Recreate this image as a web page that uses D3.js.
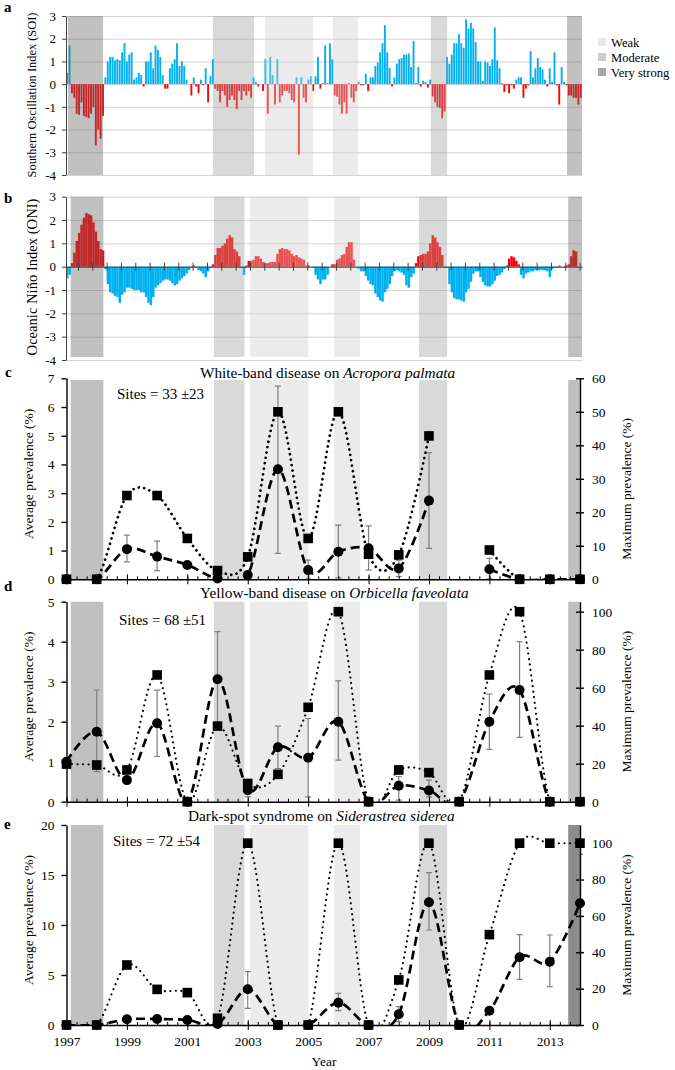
<!DOCTYPE html>
<html>
<head>
<meta charset="utf-8">
<script src="https://cdn.jsdelivr.net/npm/d3@7"></script>
<style>
  body { margin: 0; background: #fff; }
  text { font-family: "Liberation Serif", "Times New Roman", serif; }
</style>
</head>
<body>
<svg id="fig" width="675" height="1070" font-family="Liberation Serif, serif"></svg>
<script>
// ---- data ----
// monthly Southern Oscillation Index, Jan 1997 onwards
const soi = [
  0.5, 1.7, -0.4, -0.6, -1.3, -1.35, -0.8, -1.4, -1.45, -1.5, -1.3, -1.0,
  -2.7, -2.0, -2.4, -1.4, 0.3, 1.0, 1.2, 1.2, 1.05, 1.1, 1.05, 1.4,
  1.8, 1.0, 1.3, 1.4, 0.2, 0.3, 0.5, 0.4, -0.1, 1.0, 1.0, 1.4,
  0.7, 1.7, 1.5, 1.2, 0.4, -0.2, -0.2, 0.7, 0.9, 1.1, 1.8, 0.8,
  1.0, 0.8, 0.2, 0.0, -0.5, 0.3, -0.1, -0.4, 0.2, -0.05, 0.7, -0.8,
  0.35, 1.1, -0.2, -0.3, -0.8, -0.3, -0.5, -1.0, -0.7, -0.5, -0.7, -1.1,
  -0.3, -0.7, -0.3, -0.5, -0.3, -0.6, 0.3, 0.1, -0.1, 0.0, -0.3, 1.1,
  -1.3, 1.2, 0.4, -0.9, 1.1, -0.8, -0.5, -0.3, -0.3, -0.4, -0.7, -0.8,
  0.3, -3.1, 0.3, -0.6, -0.8, 0.2, 0.35, -0.3, 0.35, 1.2, -0.2, 0.05,
  1.7, 0.05, 1.8, 1.1, -0.5, -0.55, -0.9, -1.3, -0.8, -1.3, 0.05, -0.6,
  -0.8, -0.3, 0.1, -0.05, -0.05, 0.45, -0.3, 0.3, 0.3, 0.8, 0.95, 1.4,
  1.8, 2.6, 1.4, 0.7, -0.1, 0.3, 0.9, 1.1, 1.15, 1.3, 1.3, 1.35,
  0.75, 1.9, 0.05, 0.75, -0.1, 0.15, 0.1, -0.15, 0.2, -0.55, -0.8, -1.0,
  -1.05, -1.5, -1.2, 1.2, 0.9, 1.3, 1.8, 1.8, 2.2, 1.8, 1.6, 2.85,
  2.45, 2.7, 2.45, 1.85, 1.0, 1.0, 0.15, 1.0, 0.95, 0.8, 1.1, 2.5,
  1.05, 0.7, 0.05, -0.35, -0.05, -0.4, -0.05, -0.2, 0.2, 0.3, 0.3, -0.6,
  -0.2, -0.05, 1.45, 0.3, 0.7, 1.15, 0.75, 0.65, 0.2, -0.1, 0.7, 0.1,
  1.4, -0.05, -0.9, 0.75, 0.1, -0.05, -0.5, -0.5, -0.6, -0.6, -0.9, -0.6
];

// monthly Oceanic Nino Index, Jan 1997 onwards
const oni = [
  -0.5, -0.35, 0.15, 0.6, 1.1, 1.45, 1.8, 2.1, 2.3, 2.25, 2.2, 1.9,
  1.5, 1.1, 0.75, 0.7, -0.1, -0.75, -1.1, -1.15, -1.25, -1.3, -1.55, -1.2,
  -1.1, -0.9, -0.9, -0.95, -1.0, -1.0, -1.0, -1.1, -1.1, -1.3, -1.55, -1.65,
  -1.3, -0.9, -0.8, -0.7, -0.6, -0.55, -0.55, -0.6, -0.7, -0.8, -0.75, -0.6,
  -0.5, -0.4, -0.3, -0.15, -0.05, 0.05, -0.05, -0.15, -0.2, -0.3, -0.45, -0.2,
  -0.05, 0.1, 0.5, 0.8, 0.8, 0.9, 1.0, 1.2, 1.35, 1.25, 0.75, 0.65,
  0.45, -0.05, -0.35, 0.05, 0.25, 0.25, 0.3, 0.45, 0.45, 0.35, 0.2, 0.15,
  0.15, 0.2, 0.2, 0.2, 0.55, 0.75, 0.8, 0.75, 0.75, 0.7, 0.55, 0.45,
  0.5, 0.4, 0.35, 0.3, 0.05, 0.05, 0.0, -0.05, -0.35, -0.55, -0.75, -0.55,
  -0.55, -0.35, 0.0, 0.1, 0.1, 0.3, 0.35, 0.5, 0.55, 0.85, 1.05, 1.05,
  0.3, 0.0, -0.1, -0.2, -0.2, -0.4, -0.6, -0.75, -0.8, -1.15, -1.3, -1.45,
  -1.5, -1.1, -0.95, -0.75, -0.4, -0.2, -0.15, -0.2, -0.25, -0.35, -0.8, -0.9,
  -0.45, -0.3, 0.15, 0.45, 0.5, 0.55, 0.55, 0.65, 1.0, 1.35, 1.25, 1.05,
  0.85, 0.5, -0.05, -0.05, -0.75, -1.1, -1.35, -1.4, -1.4, -1.45, -1.5, -1.1,
  -0.95, -0.65, -0.3, -0.2, -0.2, -0.45, -0.65, -0.8, -0.85, -0.85, -0.75, -0.6,
  -0.4, -0.35, -0.25, -0.1, 0.05, 0.35, 0.45, 0.4, 0.25, 0.1, -0.35, -0.5,
  -0.3, -0.25, -0.2, -0.2, -0.15, -0.15, -0.15, -0.15, -0.15, -0.2, -0.45, -0.1,
  -0.05, -0.05, 0.05, 0.0, -0.05, 0.05, 0.1, 0.45, 0.7, 0.65
];

// ENSO periods [start, end, strength]
const bandsA = [[1997.05, 1998.21, 'vs'], [2001.85, 2003.21, 'm'], [2003.57, 2005.16, 'w'],
                [2005.82, 2006.65, 'w'], [2009.06, 2009.6, 'm'], [2013.57, 2014.07, 'vs']];
const bands = [[1997.14, 1998.22, 'vs'], [2001.88, 2002.89, 'm'], [2003.08, 2005.01, 'w'],
               [2005.86, 2006.72, 'w'], [2008.67, 2009.6, 'm'], [2013.61, 2014.07, 'vs']];
const bandsE = [[1997.14, 1998.22, 'vs'], [2001.88, 2002.89, 'm'], [2003.08, 2005.01, 'w'],
                [2005.86, 2006.72, 'w'], [2008.67, 2009.6, 'm'], [2013.61, 2014.07, 'vsd']];
const legendItems = ['Weak', 'Moderate', 'Very strong'];

const years = d3.range(1997, 2015);
const xTickYears = [1997, 1999, 2001, 2003, 2005, 2007, 2009, 2011, 2013];

// white-band disease
const wbdAvg = [0, 0, 1.05, 0.79, 0.5, 0.03, 0.15, 3.83, 0.32, 0.96, 1.08, 0.38, 2.74, null, 0.35, 0, 0, 0];
const wbdMax = [0, 0, 25, 25, 12.2, 2.6, 6.7, 50, 12.2, 50, 7.5, 7.3, 42.8, null, 8.75, 0, 0, 0];
const wbdLo = [null, null, 0.61, 0.3, 0.42, null, null, 0.9, 0.02, 0.05, 0.32, 0.09, 1.08, null, 0.02, null, null, null];
const wbdHi = [null, null, 1.54, 1.33, 0.62, null, null, 6.73, 0.67, 1.89, 1.86, 0.67, 4.41, null, 0.73, null, null, null];

// yellow-band disease
const ybdAvg = [1.0, 1.75, 0.54, 1.96, 0, 3.06, 0.29, 1.36, 1.1, 2.0, 0, 0.4, 0.28, 0, 2.0, 2.79, 0, 0];
const ybdMax = [19.8, 19.3, 16.7, 66.7, 0, 39.8, 9.6, 14.4, 49.7, 100, 0, 16.7, 15.3, 0, 66.7, 100, 0, 0];
const ybdLo = [null, 0.75, 0.45, 1.13, null, 1.9, 0.12, 0.83, 0.12, 1.04, null, 0.04, 0.12, null, 1.31, 1.61, null, null];
const ybdHi = [null, 2.79, 0.62, 2.79, null, 4.25, 0.45, 1.89, 2.08, 3.02, null, 0.63, 0.54, null, 2.69, 4.0, null, null];

// dark-spot syndrome
const dssAvg = [0, 0, 0.57, 0.6, 0.5, 0.1, 3.57, 0, 0, 2.23, 0, 1.07, 12.27, 0, 1.43, 6.77, 6.33, 12.17];
const dssMax = [0, 0, 33, 19.6, 17.8, 3.7, 100, 0, 0, 100, 0, 24.8, 100, 0, 49.7, 100, 100, 100];
const dssLo = [null, null, null, null, null, null, 1.67, null, null, 1.43, null, 0.33, 9.5, null, null, 4.57, 3.83, 7.27];
const dssHi = [null, null, null, null, null, null, 5.33, null, null, 3.17, null, 1.83, 15.23, null, null, 9.03, 9.0, 17.07];

// ---- drawing ----
const serif = '"Liberation Serif", "Times New Roman", serif';
const svg = d3.select('#fig');

const yearX = d3.scaleLinear().domain([1997, 2014]).range([66.5, 580]);
const monthX = d3.scaleLinear().domain([0, 216]).range([66, 582]);
const monthW = monthX(1) - monthX(0);

const overFill = { vs: '#646464', m: '#a0a0a0', w: '#cdcdcd' };
const underFill = { vs: '#c0c0c0', m: '#d9d9d9', w: '#ebebeb', vsd: '#8c8c8c' };

function styleAxis(g, size) {
  g.attr('font-family', serif).attr('font-size', size);
  g.selectAll('text').attr('fill', '#000');
}

function panelLetter(l, x, y) {
  svg.append('text').attr('x', x).attr('y', y)
    .attr('font-size', 15).attr('font-weight', 'bold').text(l);
}

function rotTitle(txt, cx, cy, size) {
  svg.append('text')
    .attr('transform', `translate(${cx},${cy}) rotate(-90)`)
    .attr('text-anchor', 'middle').attr('dy', '0.35em')
    .attr('font-size', size).text(txt);
}

// index panels (a, b); posColor is the colour of positive values
function indexPanel(vals, y, bandList, bandTop, bandBottom, kind, posColor, negColor) {
  const g = svg.append('g');
  g.append('g').attr('transform', 'translate(66,0)')
    .call(d3.axisLeft(y).tickValues(d3.range(-4, 4)).tickSize(-516).tickFormat(''))
    .call(a => a.select('.domain').remove())
    .selectAll('line').attr('stroke', '#d3d3d3');

  g.selectAll('rect.bar').data(vals).join('rect').attr('class', 'bar')
    .attr('x', (d, i) => monthX(i) + (kind === 'soi' ? 0.2 : 0))
    .attr('width', kind === 'soi' ? monthW - 0.5 : monthW + 0.1)
    .attr('y', d => y(Math.max(0, d)))
    .attr('height', d => Math.abs(y(d) - y(0)))
    .attr('fill', d => d >= 0 ? posColor : negColor);

  g.selectAll('rect.band').data(bandList).join('rect').attr('class', 'band')
    .attr('x', d => yearX(d[0]))
    .attr('width', d => Math.min(yearX(d[1]), 582) - yearX(d[0]))
    .attr('y', bandTop).attr('height', bandBottom - bandTop)
    .attr('fill', d => overFill[d[2]]).attr('fill-opacity', 0.4);

  if (kind === 'oni') {
    g.append('g').attr('transform', `translate(0,${y(0)})`)
      .call(d3.axisBottom(monthX).tickValues(d3.range(5, 216, 6)).tickSize(4).tickSizeOuter(0).tickFormat(''))
      .call(a => a.selectAll('.tick line').attr('y1', -4).attr('stroke', '#404040'))
      .call(a => a.select('.domain').attr('stroke', '#404040'));
  }

  g.append('g').attr('transform', 'translate(66,0)')
    .call(d3.axisLeft(y).tickValues(d3.range(-4, 4)).tickSize(4).tickPadding(6).tickSizeOuter(0).tickFormat(d => String(d)))
    .call(a => styleAxis(a, 13))
    .call(a => a.selectAll('line, .domain').attr('stroke', '#404040'));
}

const yA = d3.scaleLinear().domain([-4, 3]).range([175, 16]);
indexPanel(soi, yA, bandsA, 16, 175, 'soi', '#00b0f0', '#ff0000');
const yB = d3.scaleLinear().domain([-4, 3]).range([360, 196.7]);
indexPanel(oni, yB, bands, 196.7, 357, 'oni', '#ff0000', '#00b0f0');

// legend
const leg = svg.append('g');
const legFill = ['#e7e7e7', '#cccccc', '#a6a6a6'];
leg.selectAll('rect').data(legendItems).join('rect')
  .attr('x', 598).attr('y', (d, i) => 38 + i * 15).attr('width', 8).attr('height', 8)
  .attr('fill', (d, i) => legFill[i]);
leg.selectAll('text').data(legendItems).join('text')
  .attr('x', 611).attr('y', (d, i) => 46.5 + i * 15)
  .attr('font-size', 12.6).text(d => d);

panelLetter('a', 4, 12);
panelLetter('b', 4, 203);
rotTitle('Southern Oscillation Index (SOI)', 32, 95, 12.4);
rotTitle('Oceanic Niño Index (ONI)', 32, 277, 14.6);

// disease panels (c, d, e)
function diseasePanel(p) {
  const g = svg.append('g');
  const yL = d3.scaleLinear().domain([0, p.leftMax]).range([p.y0, p.y1]);
  const yR = d3.scaleLinear().domain([0, p.rightMax]).range([p.y0, p.y1]);

  g.selectAll('rect.band').data(p.bands).join('rect').attr('class', 'band')
    .attr('x', d => yearX(d[0]))
    .attr('width', d => Math.min(yearX(d[1]), 580) - yearX(d[0]))
    .attr('y', p.bandTop).attr('height', p.y0 - p.bandTop)
    .attr('fill', d => underFill[d[2]]);

  const errs = years.map((yr, i) => ({ yr, lo: p.lo[i], hi: p.hi[i] })).filter(d => d.lo != null);
  g.selectAll('path.err').data(errs).join('path').attr('class', 'err')
    .attr('d', d => {
      const x = yearX(d.yr);
      return `M${x},${yL(d.lo)}V${yL(d.hi)}M${x - 3},${yL(d.lo)}h6M${x - 3},${yL(d.hi)}h6`;
    })
    .attr('stroke', '#808080').attr('stroke-width', 1.2).attr('fill', 'none');

  // x axis: minor then major ticks
  g.append('g').attr('transform', `translate(0,${p.y0})`)
    .call(d3.axisBottom(yearX).tickValues(d3.range(0, 52).map(k => 1997 + k / 3)).tickSize(-3).tickSizeOuter(0).tickFormat(''))
    .call(a => a.selectAll('line').attr('stroke', '#000'))
    .call(a => a.select('.domain').attr('stroke', '#000').attr('stroke-width', 1.4));
  g.append('g').attr('transform', `translate(0,${p.y0})`)
    .call(d3.axisBottom(yearX).tickValues(xTickYears).tickSize(5).tickPadding(6).tickSizeOuter(0)
      .tickFormat(p.xLabels ? d3.format('d') : ''))
    .call(a => a.select('.domain').remove())
    .call(a => a.selectAll('.tick line').attr('y1', -5).attr('stroke', '#000'))
    .call(a => styleAxis(a, 13.5));

  g.append('g').attr('transform', 'translate(66.5,0)')
    .call(d3.axisLeft(yL).ticks(p.leftTicks).tickSize(5).tickPadding(7).tickSizeOuter(0))
    .call(a => styleAxis(a, 13.5))
    .call(a => a.selectAll('line, .domain').attr('stroke', '#000').attr('stroke-width', 1.4));
  g.append('g').attr('transform', 'translate(580,0)')
    .call(d3.axisRight(yR).tickValues(p.rightTicks).tickSize(4).tickPadding(8).tickSizeOuter(0))
    .call(a => styleAxis(a, 13.5))
    .call(a => a.selectAll('.tick line').attr('x1', -4))
    .call(a => a.selectAll('line, .domain').attr('stroke', '#000').attr('stroke-width', 1.4));

  // smoothed lines are clipped to the plot area
  const clipId = 'clip' + p.id;
  svg.append('clipPath').attr('id', clipId).append('rect')
    .attr('x', 66.5).attr('y', p.y1 - 10).attr('width', 580 - 66.5).attr('height', p.y0 - p.y1 + 10);
  const lines = g.append('g').attr('clip-path', `url(#${clipId})`);

  const maxPts = years.map((yr, i) => ({ yr, v: p.max[i] }));
  const avgPts = years.map((yr, i) => ({ yr, v: p.avg[i] }));
  const smooth = d3.curveCardinal.tension(0);

  lines.append('path').datum(maxPts)
    .attr('d', d3.line().defined(d => d.v != null).x(d => yearX(d.yr)).y(d => yR(d.v)).curve(smooth))
    .attr('fill', 'none').attr('stroke', '#000').attr('stroke-width', p.dotW)
    .attr('stroke-linecap', 'round').attr('stroke-dasharray', '0.1,5.4');
  lines.append('path').datum(avgPts)
    .attr('d', d3.line().defined(d => d.v != null).x(d => yearX(d.yr)).y(d => yL(d.v)).curve(smooth))
    .attr('fill', 'none').attr('stroke', '#000').attr('stroke-width', 2.7)
    .attr('stroke-dasharray', '9,5');

  g.selectAll('rect.sq').data(maxPts.filter(d => d.v != null)).join('rect').attr('class', 'sq')
    .attr('x', d => yearX(d.yr) - 4.8).attr('y', d => yR(d.v) - 4.8)
    .attr('width', 9.6).attr('height', 9.6).attr('fill', '#000');
  g.selectAll('circle').data(avgPts.filter(d => d.v != null)).join('circle')
    .attr('cx', d => yearX(d.yr)).attr('cy', d => yL(d.v)).attr('r', 5).attr('fill', '#000');

  const t = svg.append('text').attr('x', p.titleX).attr('y', p.titleY).attr('font-size', 15.3);
  t.append('tspan').text(p.title[0]);
  t.append('tspan').attr('font-style', 'italic').text(p.title[1]);
  svg.append('text').attr('x', p.sitesX).attr('y', p.sitesY).attr('font-size', 15).text(p.sites);

  rotTitle('Average prevalence (%)', 28, (p.y0 + p.y1) / 2 - 5, 13.5);
  rotTitle('Maximum prevalence (%)', 626, (p.y0 + p.y1) / 2 + p.rightShift, 13.5);
}

diseasePanel({
  id: 'c', y0: 579.3, y1: 378.3, bandTop: 380, leftMax: 7, rightMax: 60, leftTicks: 7,
  rightTicks: [0, 10, 20, 30, 40, 50, 60], bands: bands,
  avg: wbdAvg, max: wbdMax, lo: wbdLo, hi: wbdHi, dotW: 2.7,
  title: ['White-band disease on ', 'Acropora palmata'], titleX: 200, titleY: 377.5,
  sites: 'Sites = 33 \u00b123', sitesX: 117, sitesY: 399, xLabels: false, rightShift: 10
});
diseasePanel({
  id: 'd', y0: 801.7, y1: 601.7, bandTop: 601.7, leftMax: 5, rightMax: 105.26, leftTicks: 5,
  rightTicks: [0, 20, 40, 60, 80, 100], bands: bands,
  avg: ybdAvg, max: ybdMax, lo: ybdLo, hi: ybdHi, dotW: 2.1,
  title: ['Yellow-band disease on ', 'Orbicella faveolata'], titleX: 200, titleY: 597.5,
  sites: 'Sites = 68 \u00b151', sitesX: 119, sitesY: 624.5, xLabels: false, rightShift: 0
});
diseasePanel({
  id: 'e', y0: 1025, y1: 825, bandTop: 825, leftMax: 20, rightMax: 110, leftTicks: 4,
  rightTicks: [0, 20, 40, 60, 80, 100], bands: bandsE,
  avg: dssAvg, max: dssMax, lo: dssLo, hi: dssHi, dotW: 2.1,
  title: ['Dark-spot syndrome on ', 'Siderastrea siderea'], titleX: 188, titleY: 820.5,
  sites: 'Sites = 72 \u00b154', sitesX: 113, sitesY: 846, xLabels: true, rightShift: 0
});

panelLetter('c', 5, 377);
panelLetter('d', 4, 591);
panelLetter('e', 4, 829);

svg.append('text').attr('x', 324).attr('y', 1066).attr('text-anchor', 'middle')
  .attr('font-size', 13.5).text('Year');
</script>
</body>
</html>
